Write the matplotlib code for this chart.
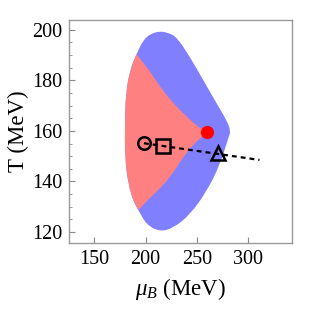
import matplotlib
matplotlib.use("Agg")
import matplotlib.pyplot as plt
from matplotlib.path import Path
from matplotlib.patches import PathPatch
from matplotlib.ticker import MultipleLocator

plt.rcParams['font.family'] = ['Liberation Serif', 'DejaVu Serif']
plt.rcParams['mathtext.fontset'] = 'custom'
plt.rcParams['mathtext.rm'] = 'Liberation Serif'
plt.rcParams['mathtext.it'] = 'Liberation Serif:italic'

# outer boundary of the whole (blue) region, mu_B and T in MeV
blue_mu = [191.0, 197.7, 204.3, 214.0, 222.0, 230.3, 243.2, 256.2, 269.2, 278.9,
           283.0, 281.0, 272.4, 259.5, 243.2, 227.0, 214.0, 201.0, 192.9,
           188.3, 183.4, 179.9, 179.9, 180.9, 184.8]
blue_T = [190.3, 195.9, 198.3, 199.5, 198.8, 197.2, 189.3, 180.1, 170.9, 164.3,
          160.0, 157.6, 146.5, 136.0, 126.8, 121.5, 120.1, 122.8, 128.7,
          132.0, 138.6, 149.2, 164.3, 174.9, 184.1]

# red region: left edge (bottom -> top), upper and lower edge towards the dot
red_left_mu = [192.9, 188.3, 183.4, 179.9, 179.9, 180.9, 184.8, 191.0]
red_left_T = [128.7, 132.0, 138.6, 149.2, 164.3, 174.9, 184.1, 190.3]
red_up_mu = [191.0, 201.3, 214.0, 227.0, 240.0, 252.9, 260.0]
red_up_T = [190.3, 185.4, 177.5, 170.9, 165.6, 161.0, 159.4]
red_low_mu = [260.0, 252.9, 240.0, 223.7, 207.5, 194.5, 192.9]
red_low_T = [159.4, 157.1, 151.8, 141.3, 134.7, 129.4, 128.7]

# points
circle_pt = (198.4, 155.1)
square_pt = (217.2, 154.2)
triangle_pt = (270.8, 151.1)
red_pt = (260.0, 159.4)
line_mu = [198.4, 311.0]
line_T = [155.1, 148.5]


def mid(a, b):
    return ((a[0] + b[0]) / 2, (a[1] + b[1]) / 2)


def smooth(xs, ys, closed=False):
    """quadratic bezier pieces through the midpoints of the given points"""
    p = list(zip(xs, ys))
    n = len(p)
    verts, codes = [], []
    if closed:
        verts.append(mid(p[-1], p[0]))
        codes.append(Path.MOVETO)
        for i in range(n):
            verts += [p[i], mid(p[i], p[(i + 1) % n])]
            codes += [Path.CURVE3, Path.CURVE3]
        verts.append(verts[0])
        codes.append(Path.CLOSEPOLY)
    else:
        verts.append(p[0])
        codes.append(Path.MOVETO)
        for i in range(1, n - 1):
            end = mid(p[i], p[i + 1]) if i < n - 2 else p[-1]
            verts += [p[i], end]
            codes += [Path.CURVE3, Path.CURVE3]
    return verts, codes


fig = plt.figure(figsize=(3.09, 3.13), dpi=100)
ax = fig.add_axes([0.2233, 0.2227, 0.9460 - 0.2233, 0.937 - 0.2227])

v, c = smooth(blue_mu, blue_T, closed=True)
ax.add_patch(PathPatch(Path(v, c), facecolor='#8080ff', lw=0))

verts, codes = [], []
for xs, ys in [(red_left_mu, red_left_T), (red_up_mu, red_up_T), (red_low_mu, red_low_T)]:
    v, c = smooth(xs, ys)
    if codes:
        c[0] = Path.LINETO
    verts += v
    codes += c
verts.append(verts[0])
codes.append(Path.CLOSEPOLY)
ax.add_patch(PathPatch(Path(verts, codes), facecolor='#ff8080', lw=0))

ax.plot(line_mu, line_T, color='black', ls=(0, (2.2, 1.8)), lw=1.6, zorder=3)
ax.plot(*circle_pt, marker='o', ms=9, mfc='none', mec='black', mew=1.8, zorder=4)
ax.plot(*square_pt, marker='s', ms=9.5, mfc='none', mec='black', mew=1.8, zorder=4)
ax.plot(*triangle_pt, marker='^', ms=10, mfc='none', mec='black', mew=1.8, zorder=4)
ax.plot(*red_pt, marker='o', ms=9.5, color='#ff0000', mew=0, zorder=4)

ax.set_xlim(125.4, 343)
ax.set_ylim(115.5, 204)
ax.xaxis.set_major_locator(MultipleLocator(50))
ax.yaxis.set_major_locator(MultipleLocator(20))
ax.yaxis.set_minor_locator(MultipleLocator(5))
ax.tick_params(which='both', direction='in', top=False, right=False,
               labelsize=14.5, color='#888888', pad=5)
ax.tick_params(which='major', length=4)
ax.tick_params(which='minor', length=2)
for s in ax.spines.values():
    s.set_color('#999999')
    s.set_linewidth(1.0)

ax.set_xlabel(r'$\mu_B$ (MeV)', fontsize=16.5, labelpad=5)
ax.set_ylabel('T (MeV)', fontsize=16.5, labelpad=2)

fig.savefig('out.png', dpi=100)
